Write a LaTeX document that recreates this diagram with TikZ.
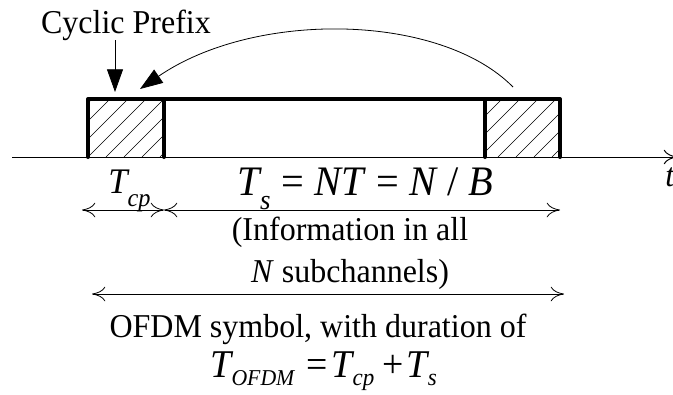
\documentclass[tikz,border=0pt]{standalone}
\usepackage{fontspec}
\usepackage{graphicx}
\setmainfont{Liberation Serif}[FakeStretch=0.96]
\usetikzlibrary{arrows.meta}
\newcommand{\lsub}[3]{\kern-1.5pt\raisebox{-#1}{\fontsize{#2}{#2}\selectfont\itshape #3}}
\tikzset{
  txt/.style={font=\fontsize{25}{28}\selectfont, inner sep=0pt},
  thick bar/.style={line width=3pt, line cap=round, line join=round},
  hatchline/.style={line width=0.5pt},
  dimline/.style={line width=0.6pt, {Computer Modern Rightarrow[length=10pt,width=11pt]}-{Computer Modern Rightarrow[length=10pt,width=11pt]}},
  bigtip/.style={-{Triangle[length=17pt,width=12pt]}, line width=0.6pt},
}
\begin{document}
\begin{tikzpicture}[x=0.75pt,y=-0.75pt]
\useasboundingbox (0,0) rectangle (673,394);

% hatching
\begin{scope}
  \clip (88,99) rectangle (164,157);
  \foreach \a in {-20,-2,...,170} \draw[hatchline] (\a,157) -- ++(58,-58);
\end{scope}
\begin{scope}
  \clip (485,99) rectangle (560,157);
  \foreach \a in {390,408,...,580} \draw[hatchline] (\a,157) -- ++(58,-58);
\end{scope}

% time axis
\coordinate (ax0) at (12,157);
\coordinate (ax1) at (677,157);
\draw[line width=0.75pt, -{Computer Modern Rightarrow[length=10pt,width=11pt]}] (ax0) -- (ax1);
\node[txt, anchor=base west, font=\fontsize{25}{28}\selectfont\itshape] (t) at (665,186) {t};

% symbol frame
\coordinate (f0) at (88,157);
\coordinate (f1) at (88,99);
\coordinate (f2) at (560,99);
\coordinate (f3) at (560,157);
\coordinate (c0) at (164,99);
\coordinate (c1) at (164,157);
\coordinate (r0) at (485,99);
\coordinate (r1) at (485,157);
\draw[thick bar] (f0) -- (f1) -- (f2) -- (f3);
\draw[thick bar] (c0) -- (c1);
\draw[thick bar] (r0) -- (r1);

% cyclic prefix label
\node[txt, anchor=base] (cpl) at (126,33) {Cyclic Prefix};
\coordinate (cpa) at (115,92);
\coordinate (cpb) at (115,40);
\draw[bigtip] (cpb) -- (cpa);
\coordinate (cs) at (513,87);
\coordinate (ce) at (140,89);
\draw[bigtip] (cs) .. controls (440,13) and (255,10) .. (ce);

% durations
\node[inner sep=0pt, anchor=base west, font=\fontsize{27}{30}\selectfont] (tcp) at (108,193)
  {\textit{T}\lsub{10pt}{19}{cp}};
\node[inner sep=0pt, anchor=base west, font=\fontsize{31.5}{34}\selectfont] (ts) at (237,195)
  {\textit{T}\lsub{11pt}{21}{s}\hspace{0.25em}=\hspace{0.25em}\textit{NT}\hspace{0.25em}=\hspace{0.25em}\textit{N}\hspace{0.22em}/\hspace{0.22em}\textit{B}};

\coordinate (d0) at (82,210);
\coordinate (d1) at (164,210);
\coordinate (d2) at (560,210);
\draw[dimline] (d0) -- (d1);
\draw[dimline] (d1) -- (d2);

\node[txt, anchor=base] (info1) at (350,240) {(Information in all};
\node[txt, anchor=base] (info2) at (350,282) {\textit{N} subchannels)};

\coordinate (e0) at (92,294);
\coordinate (e1) at (564,294);
\draw[dimline] (e0) -- (e1);

\node[txt, anchor=base] (ofdm) at (318,337) {OFDM symbol, with duration of};
\node[inner sep=0pt, anchor=base west, font=\fontsize{29.5}{32}\selectfont] (tofdm) at (210,377)
  {\textit{T}\lsub{6pt}{17}{OFDM}\hspace{0.3em}=\hspace{0.1em}\textit{T}\lsub{6pt}{18}{cp}\hspace{0.2em}+\hspace{0.08em}\textit{T}\lsub{6pt}{18}{s}};
\end{tikzpicture}
\end{document}
